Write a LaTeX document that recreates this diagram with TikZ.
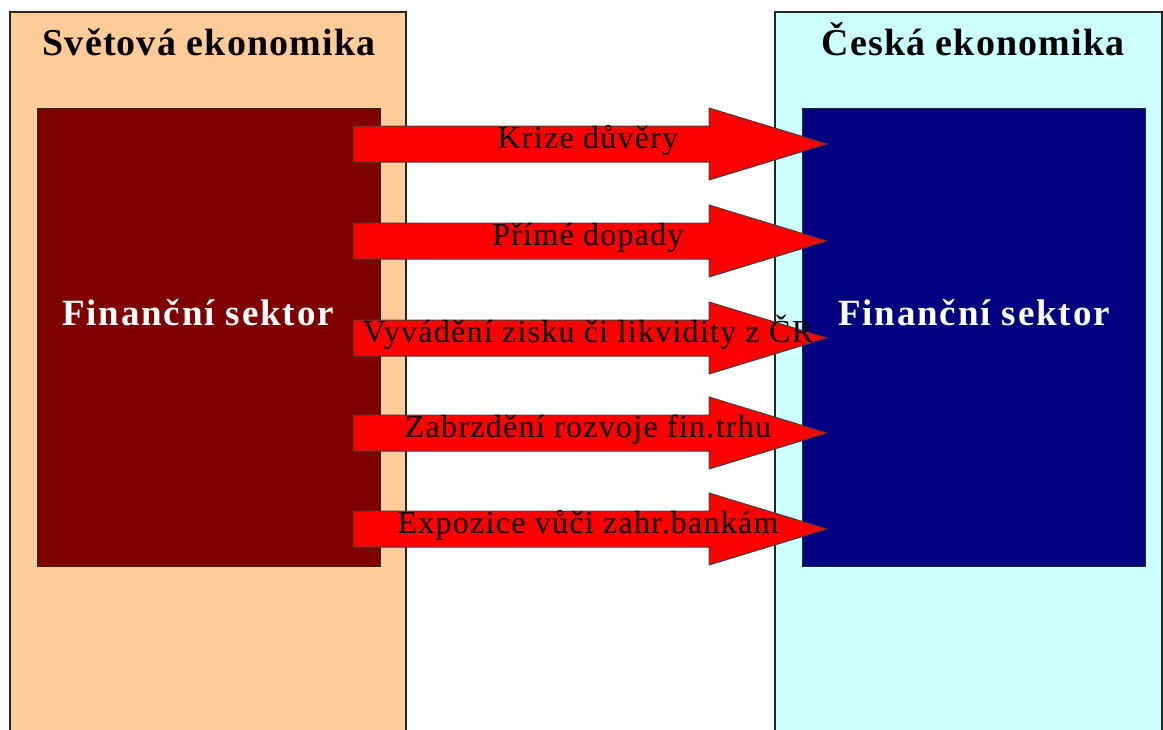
\documentclass[tikz,border=0pt]{standalone}
\usepackage{fontspec}
\setmainfont{Liberation Serif}
\usetikzlibrary{positioning}
\definecolor{peach}{RGB}{255,204,153}
\definecolor{palecyan}{RGB}{204,255,255}
\definecolor{darkmaroon}{RGB}{127,0,0}
\definecolor{navyblue}{RGB}{0,0,128}

\begin{document}
\begin{tikzpicture}[x=1pt, y=-1pt,
			outerbox/.style={draw=black!85, line width=1.5pt},
			innerbox/.style={draw=black!85, line width=1pt, anchor=north west, minimum width=343pt, minimum height=458pt, inner sep=0pt},
			titletext/.style={anchor=base, inner sep=0pt, font=\fontsize{38}{40}\selectfont\bfseries\addfontfeature{LetterSpace=3}},
			sektortext/.style={anchor=base, inner sep=0pt, text=white, font=\fontsize{37}{40}\selectfont\bfseries\addfontfeature{LetterSpace=5}},
			blockarrow/.style={draw=black!75, line width=1pt, fill=red},
			arrowtext/.style={anchor=base, inner sep=0pt, font=\fontsize{32}{34}\selectfont\addfontfeature{LetterSpace=4}}]
			% Bildbereich
			\useasboundingbox (0,0) rectangle (1163,729);
			\clip (0,0) rectangle (1163,729);
			% Aussenbereiche
			\draw[outerbox, fill=peach] (10,12) rectangle (406,745);
			\draw[outerbox, fill=palecyan] (775,12) rectangle (1162,745);
			\node[titletext] (weltTitel) at (209,55) {Světová ekonomika};
			\node[titletext] (czTitel) at (973,55) {Česká ekonomika};
			% Finanzsektoren
			\node[innerbox, fill=darkmaroon] (weltFin) at (37,108) {};
			\node[innerbox, fill=navyblue] (czFin) at (802,108) {};
			\node[sektortext] (weltFinText) at (198,325) {Finanční sektor};
			\node[sektortext] (czFinText) at (974,325) {Finanční sektor};
			% Pfeile
			\foreach \y/\txt [count=\i] in {144/Krize důvěry, 241/Přímé dopady, 338/Vyvádění zisku či likvidity z ČR, 433/Zabrzdění rozvoje fin.trhu, 529/Expozice vůči zahr.bankám}
			{
				\draw[blockarrow] (353,{\y-18}) -- (709,{\y-18}) -- (709,{\y-36}) -- (827,\y) -- (709,{\y+36}) -- (709,{\y+18}) -- (353,{\y+18}) -- cycle;
				\node[arrowtext] (pfeil\i) at (588,{\y+4}) {\txt};
			}
		\end{tikzpicture}
\end{document}
